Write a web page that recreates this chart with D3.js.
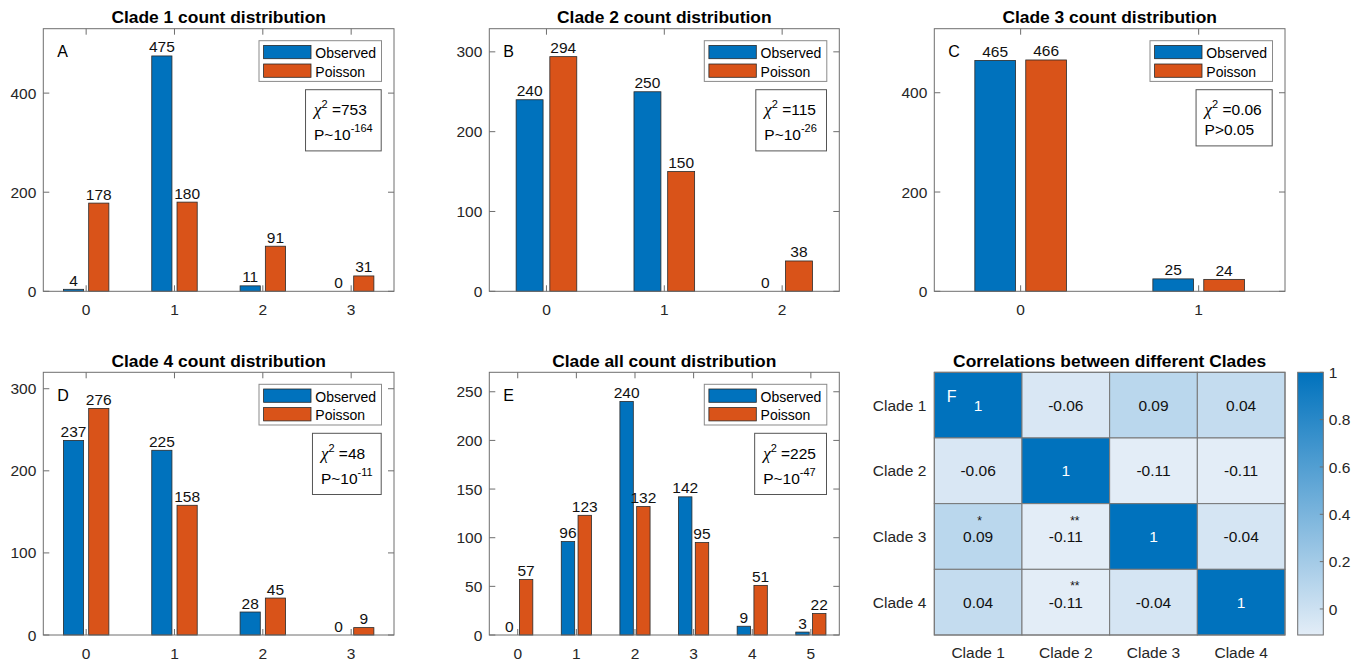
<!DOCTYPE html>
<html>
<head>
<meta charset="utf-8">
<script src="https://cdn.jsdelivr.net/npm/d3@7"></script>
<style>
  html, body { margin: 0; padding: 0; background: #fff; }
  svg { display: block; font-family: "Liberation Sans", Arial, Helvetica, sans-serif; }
</style>
</head>
<body>
<svg id="chart" width="1363" height="662"></svg>
<script>
// ---------------- DATA ----------------
const panelTitles = ["Clade 1 count distribution", "Clade 2 count distribution", "Clade 3 count distribution",
                     "Clade 4 count distribution", "Clade all count distribution"];
const panelLetters = ["A", "B", "C", "D", "E"];
const seriesNames = ["Observed", "Poisson"];

const categories1 = [0, 1, 2, 3];
const observed1 = [4, 475, 11, 0];
const poisson1 = [178, 180, 91, 31];

const categories2 = [0, 1, 2];
const observed2 = [240, 250, 0];
const poisson2 = [294, 150, 38];

const categories3 = [0, 1];
const observed3 = [465, 25];
const poisson3 = [466, 24];

const categories4 = [0, 1, 2, 3];
const observed4 = [237, 225, 28, 0];
const poisson4 = [276, 158, 45, 9];

const categoriesAll = [0, 1, 2, 3, 4, 5];
const observedAll = [0, 96, 240, 142, 9, 3];
const poissonAll = [57, 123, 132, 95, 51, 22];

const yMaxes = [530, 329, 529, 320, 270];
const yTicks1 = [0, 200, 400];
const yTicks2 = [0, 100, 200, 300];
const yTicks3 = [0, 200, 400];
const yTicks4 = [0, 100, 200, 300];
const yTicksAll = [0, 50, 100, 150, 200, 250];

const chiValues = ["753", "115", "0.06", "48", "225"];
const pBase = ["P~10", "P~10", "P>0.05", "P~10", "P~10"];
const pExponent = ["-164", "-26", "", "-11", "-47"];

const cladeLabels = ["Clade 1", "Clade 2", "Clade 3", "Clade 4"];
const corrRow1 = [1, -0.06, 0.09, 0.04];
const corrRow2 = [-0.06, 1, -0.11, -0.11];
const corrRow3 = [0.09, -0.11, 1, -0.04];
const corrRow4 = [0.04, -0.11, -0.04, 1];
const starRow1 = ["", "", "", ""];
const starRow2 = ["", "", "", ""];
const starRow3 = ["*", "**", "", ""];
const starRow4 = ["", "**", "", ""];
const colorbarTicks = [0, 0.2, 0.4, 0.6, 0.8, 1];
const colorDomain = [-0.11, 1];

// ---------------- LAYOUT / STYLE ----------------
const BLUE = "#0072BD", ORANGE = "#D95319";
const AXIS = "#6e6e6e", TXT = "#262626";
const colLeft = [43.3, 489.3, 934.3];
const colRight = [394, 839.3, 1285];
const rowTop = [28.7, 372.3];
const rowBottom = [291.3, 635];

const svg = d3.select("#chart");

const panels = [
  { cats: categories1, obs: observed1, poi: poisson1, ticks: yTicks1 },
  { cats: categories2, obs: observed2, poi: poisson2, ticks: yTicks2 },
  { cats: categories3, obs: observed3, poi: poisson3, ticks: yTicks3 },
  { cats: categories4, obs: observed4, poi: poisson4, ticks: yTicks4 },
  { cats: categoriesAll, obs: observedAll, poi: poissonAll, ticks: yTicksAll }
];

const barW = 0.2286, barOff = 0.143, pad = 0.485;

panels.forEach((p, i) => {
  const col = i % 3, row = Math.floor(i / 3);
  const L = colLeft[col], R = colRight[col], T = rowTop[row], B = rowBottom[row];
  const n = p.cats.length;
  const x = d3.scaleLinear().domain([-pad, n - 1 + pad]).range([L, R]);
  const y = d3.scaleLinear().domain([0, yMaxes[i]]).range([B, T]);
  const g = svg.append("g");

  // bars
  const series = [{ vals: p.obs, color: BLUE, off: -barOff }, { vals: p.poi, color: ORANGE, off: barOff }];
  series.forEach(s => {
    g.selectAll(null).data(p.cats).enter().append("rect")
      .attr("x", (d, k) => x(k + s.off - barW / 2))
      .attr("width", (d, k) => x(k + s.off + barW / 2) - x(k + s.off - barW / 2))
      .attr("y", (d, k) => y(s.vals[k]))
      .attr("height", (d, k) => B - y(s.vals[k]))
      .attr("fill", s.color)
      .attr("stroke", (d, k) => s.vals[k] > 0 ? "#2a2a2a" : "none")
      .attr("stroke-width", 0.8);
    g.selectAll(null).data(p.cats).enter().append("text")
      .attr("x", (d, k) => x(k + s.off))
      .attr("y", (d, k) => y(s.vals[k]) - 3.5)
      .attr("text-anchor", "middle")
      .attr("font-size", 15.5)
      .attr("fill", "#111")
      .text((d, k) => s.vals[k]);
  });

  // axes box
  g.append("rect").attr("x", L).attr("y", T).attr("width", R - L).attr("height", B - T)
    .attr("fill", "none").attr("stroke", AXIS).attr("stroke-width", 1);

  // x ticks (in, top & bottom)
  p.cats.forEach((c, k) => {
    g.append("line").attr("x1", x(k)).attr("x2", x(k)).attr("y1", B).attr("y2", B - 6).attr("stroke", AXIS);
    g.append("line").attr("x1", x(k)).attr("x2", x(k)).attr("y1", T).attr("y2", T + 6).attr("stroke", AXIS);
    g.append("text").attr("x", x(k)).attr("y", B + 23.5).attr("text-anchor", "middle")
      .attr("font-size", 15.5).attr("fill", TXT).text(c);
  });
  // y ticks
  p.ticks.forEach(t => {
    g.append("line").attr("x1", L).attr("x2", L + 6).attr("y1", y(t)).attr("y2", y(t)).attr("stroke", AXIS);
    g.append("line").attr("x1", R).attr("x2", R - 6).attr("y1", y(t)).attr("y2", y(t)).attr("stroke", AXIS);
    g.append("text").attr("x", L - 7).attr("y", y(t)).attr("dy", "0.36em").attr("text-anchor", "end")
      .attr("font-size", 15.5).attr("fill", TXT).text(t);
  });

  // title
  g.append("text").attr("x", (L + R) / 2).attr("y", T - 5.5).attr("text-anchor", "middle")
    .attr("font-size", 17.4).attr("font-weight", "bold").attr("fill", "#000").text(panelTitles[i]);

  // panel letter
  g.append("text").attr("x", L + 14).attr("y", T + 28.5).attr("font-size", 16).attr("fill", "#000").text(panelLetters[i]);

  // legend
  const lgW = 122.5, lgH = 40.7, lgR = R - 12.5, lgT = T + 12;
  const lg = g.append("g").attr("transform", `translate(${lgR - lgW},${lgT})`);
  lg.append("rect").attr("width", lgW).attr("height", lgH).attr("fill", "#fff").attr("stroke", "#8a8a8a");
  [BLUE, ORANGE].forEach((c, k) => {
    lg.append("rect").attr("x", 4.6).attr("y", 4.7 + k * 18.6).attr("width", 47.4).attr("height", 13.3)
      .attr("fill", c).attr("stroke", "#2a2a2a").attr("stroke-width", 0.8);
    lg.append("text").attr("x", 56.3).attr("y", 17.3 + k * 18.7).attr("font-size", 14).attr("fill", "#000").text(seriesNames[k]);
  });

  // chi-square box
  const bx = g.append("g");
  const t1 = bx.append("text").attr("font-size", 15.5).attr("fill", "#000");
  t1.append("tspan").attr("font-family", "'Liberation Serif', 'DejaVu Serif', serif").attr("font-style", "italic").attr("font-size", 17).text("χ");
  t1.append("tspan").attr("font-size", 11).attr("dy", -7.5).text("2");
  t1.append("tspan").attr("dy", 7.5).text(" =" + chiValues[i]);
  const t2 = bx.append("text").attr("font-size", 15.5).attr("fill", "#000");
  t2.append("tspan").text(pBase[i]);
  if (pExponent[i]) t2.append("tspan").attr("font-size", 11).attr("dy", -8).text(pExponent[i]);
  const line2 = pExponent[i] ? 25 : 20;
  const w = Math.max(t1.node().getBBox().width, t2.node().getBBox().width) + 17;
  const bT = T + 61, bR = R - 12.8, bL = bR - w;
  const h = 25.7 + line2 + 10.5;
  bx.insert("rect", "text").attr("x", bL).attr("y", bT).attr("width", w).attr("height", h)
    .attr("fill", "#fff").attr("stroke", "#555");
  t1.attr("x", bL + 8.5).attr("y", bT + 25.7);
  t1.select("tspan").attr("x", bL + 8.5);
  t2.attr("x", bL + 8.5).attr("y", bT + 25.7 + line2);
});

// ---------------- HEATMAP ----------------
const corr = [corrRow1, corrRow2, corrRow3, corrRow4];
const stars = [starRow1, starRow2, starRow3, starRow4];
const HL = 934.3, HR = 1285, HT = 372.3, HB = 635;
const hx = d3.scaleBand().domain(cladeLabels).range([HL, HR]);
const hy = d3.scaleBand().domain(cladeLabels).range([HT, HB]);
const cmap = d3.scaleLinear().domain(colorDomain).range(["rgb(227,237,247)", BLUE]).interpolate(d3.interpolateRgb);
const hg = svg.append("g");

corr.forEach((rowVals, r) => {
  rowVals.forEach((v, c) => {
    const cx = hx(cladeLabels[c]), cy = hy(cladeLabels[r]);
    hg.append("rect").attr("x", cx).attr("y", cy).attr("width", hx.bandwidth()).attr("height", hy.bandwidth())
      .attr("fill", cmap(v)).attr("stroke", "#777").attr("stroke-width", 1);
    hg.append("text").attr("x", cx + hx.bandwidth() / 2).attr("y", cy + hy.bandwidth() / 2).attr("dy", "0.36em")
      .attr("text-anchor", "middle").attr("font-size", 15.5).attr("fill", v === 1 ? "#fff" : "#111").text(v);
    const s = stars[r][c];
    if (s) {
      hg.append("text").attr("x", cx + hx.bandwidth() / 2 + (s.length > 1 ? 9 : 1.5)).attr("y", cy + 21)
        .attr("text-anchor", "middle").attr("font-size", 12).attr("fill", "#111").text(s);
    }
  });
});
hg.append("rect").attr("x", HL).attr("y", HT).attr("width", HR - HL).attr("height", HB - HT)
  .attr("fill", "none").attr("stroke", "#777");

cladeLabels.forEach(lab => {
  hg.append("text").attr("x", HL - 8).attr("y", hy(lab) + hy.bandwidth() / 2).attr("dy", "0.36em")
    .attr("text-anchor", "end").attr("font-size", 15.5).attr("fill", TXT).text(lab);
  hg.append("text").attr("x", hx(lab) + hx.bandwidth() / 2).attr("y", HB + 23.3)
    .attr("text-anchor", "middle").attr("font-size", 15.5).attr("fill", TXT).text(lab);
});
hg.append("text").attr("x", (HL + HR) / 2).attr("y", HT - 5.6).attr("text-anchor", "middle")
  .attr("font-size", 17.4).attr("font-weight", "bold").attr("fill", "#000").text("Correlations between different Clades");
hg.append("text").attr("x", HL + 12.5).attr("y", HT + 29.4).attr("font-size", 16).attr("fill", "#fff").text("F");

// colorbar
const CL = 1297.7, CR = 1323.3;
const cy = d3.scaleLinear().domain(colorDomain).range([HB, HT]);
const defs = svg.append("defs");
const grad = defs.append("linearGradient").attr("id", "cbgrad").attr("x1", 0).attr("x2", 0).attr("y1", 1).attr("y2", 0);
grad.append("stop").attr("offset", 0).attr("stop-color", cmap(colorDomain[0]));
grad.append("stop").attr("offset", 1).attr("stop-color", cmap(colorDomain[1]));
hg.append("rect").attr("x", CL).attr("y", HT).attr("width", CR - CL).attr("height", HB - HT)
  .attr("fill", "url(#cbgrad)").attr("stroke", AXIS);
colorbarTicks.forEach(t => {
  hg.append("line").attr("x1", CR).attr("x2", CR - 3.5).attr("y1", cy(t)).attr("y2", cy(t)).attr("stroke", AXIS);
  hg.append("text").attr("x", CR + 5.5).attr("y", cy(t)).attr("dy", "0.36em").attr("font-size", 15.5)
    .attr("fill", TXT).text(t);
});
</script>
</body>
</html>
